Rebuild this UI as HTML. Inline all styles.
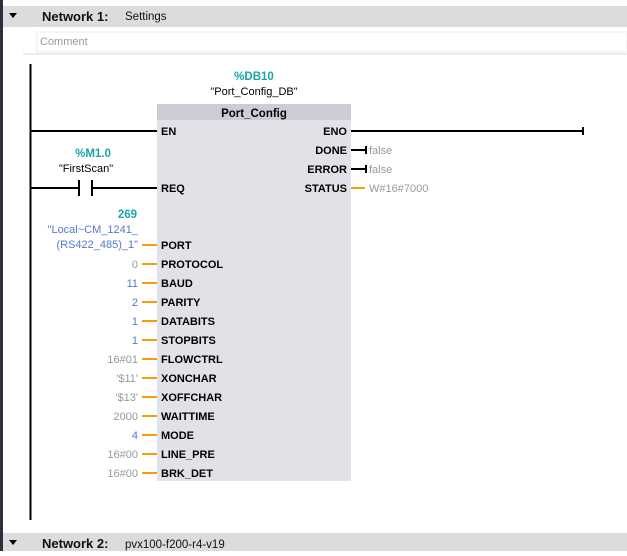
<!DOCTYPE html>
<html><head><style>
body{margin:0;width:627px;height:551px;overflow:hidden;background:#fff;font-family:"Liberation Sans",sans-serif;}
svg text{font-family:"Liberation Sans",sans-serif;}
</style></head><body>
<svg width="627" height="551" viewBox="0 0 627 551" xmlns="http://www.w3.org/2000/svg">
<rect x="0" y="0" width="3" height="551" fill="#2b2f3a"/>
<rect x="3" y="6" width="624" height="21" fill="#dcdcdc"/>
<polygon points="9,13 17,13 13,18" fill="#000"/>
<text x="42" y="21" font-size="13" font-weight="bold" fill="#111">Network 1:</text>
<text x="125" y="20" font-size="11.5" fill="#111">Settings</text>
<rect x="37" y="32" width="590" height="20" fill="#fff" stroke="#eee"/>
<text x="40" y="45" font-size="11" fill="#999">Comment</text>
<line x1="23" y1="54" x2="627" y2="54" stroke="#ddd"/>
<rect x="3" y="533" width="624" height="18" fill="#dcdcdc"/>
<polygon points="9,540 17,540 13,545" fill="#000"/>
<text x="42" y="548" font-size="13" font-weight="bold" fill="#111">Network 2:</text>
<text x="125" y="548" font-size="11.5" fill="#111">pvx100-f200-r4-v19</text>
<line x1="30.5" y1="64" x2="30.5" y2="520" stroke="#000" stroke-width="2"/>
<rect x="157" y="104" width="194" height="377" fill="#e1e1e8"/>
<rect x="157" y="104" width="194" height="16" fill="#cbccd6"/>
<text x="254" y="117" font-size="11.5" font-weight="bold" text-anchor="middle" fill="#000">Port_Config</text>
<text x="254" y="80" font-size="11.5" font-weight="bold" text-anchor="middle" fill="#1aa5a5">%DB10</text>
<text x="254" y="95" font-size="11" text-anchor="middle" fill="#000">"Port_Config_DB"</text>
<line x1="30" y1="131" x2="157" y2="131" stroke="#000" stroke-width="2"/>
<line x1="351" y1="131" x2="583" y2="131" stroke="#000" stroke-width="2"/>
<line x1="583" y1="127" x2="583" y2="135" stroke="#000" stroke-width="2"/>
<text x="93" y="157" font-size="11.5" font-weight="bold" text-anchor="middle" fill="#1aa5a5">%M1.0</text>
<text x="86" y="172" font-size="11" text-anchor="middle" fill="#000">"FirstScan"</text>
<line x1="30" y1="188" x2="78" y2="188" stroke="#000" stroke-width="2"/>
<line x1="79" y1="180" x2="79" y2="196" stroke="#000" stroke-width="2"/>
<line x1="92" y1="180" x2="92" y2="196" stroke="#000" stroke-width="2"/>
<line x1="92" y1="188" x2="157" y2="188" stroke="#000" stroke-width="2"/>
<g font-size="11" font-weight="bold" fill="#000">
<text x="161" y="135">EN</text><text x="161" y="192">REQ</text>
<text x="347" y="135" text-anchor="end">ENO</text>
<text x="347" y="154" text-anchor="end">DONE</text>
<text x="347" y="173" text-anchor="end">ERROR</text>
<text x="347" y="192" text-anchor="end">STATUS</text>
</g>
<line x1="351" y1="150" x2="366" y2="150" stroke="#000" stroke-width="2"/><line x1="366" y1="146" x2="366" y2="154" stroke="#000" stroke-width="2"/>
<line x1="351" y1="169" x2="366" y2="169" stroke="#000" stroke-width="2"/><line x1="366" y1="165" x2="366" y2="173" stroke="#000" stroke-width="2"/>
<line x1="351" y1="188" x2="365" y2="188" stroke="#f5a000" stroke-width="2"/>
<g font-size="11" fill="#999"><text x="369" y="154">false</text><text x="369" y="173">false</text><text x="369" y="192">W#16#7000</text></g>
<text x="137" y="218" font-size="11.5" font-weight="bold" text-anchor="end" fill="#1aa5a5">269</text>
<text x="138" y="233" font-size="11" text-anchor="end" fill="#5577cc">"Local~CM_1241_</text>
<text x="138" y="248" font-size="11" text-anchor="end" fill="#5577cc">(RS422_485)_1"</text>
<g stroke="#f5a000" stroke-width="2">
<line x1="142" y1="245" x2="157" y2="245"/><line x1="142" y1="264" x2="157" y2="264"/><line x1="142" y1="283" x2="157" y2="283"/><line x1="142" y1="302" x2="157" y2="302"/><line x1="142" y1="321" x2="157" y2="321"/><line x1="142" y1="340" x2="157" y2="340"/><line x1="142" y1="359" x2="157" y2="359"/><line x1="142" y1="378" x2="157" y2="378"/><line x1="142" y1="397" x2="157" y2="397"/><line x1="142" y1="416" x2="157" y2="416"/><line x1="142" y1="435" x2="157" y2="435"/><line x1="142" y1="454" x2="157" y2="454"/><line x1="142" y1="473" x2="157" y2="473"/>
</g>
<g font-size="11" font-weight="bold" fill="#000">
<text x="161" y="249">PORT</text><text x="161" y="268">PROTOCOL</text><text x="161" y="287">BAUD</text><text x="161" y="306">PARITY</text><text x="161" y="325">DATABITS</text><text x="161" y="344">STOPBITS</text><text x="161" y="363">FLOWCTRL</text><text x="161" y="382">XONCHAR</text><text x="161" y="401">XOFFCHAR</text><text x="161" y="420">WAITTIME</text><text x="161" y="439">MODE</text><text x="161" y="458">LINE_PRE</text><text x="161" y="477">BRK_DET</text>
</g>
<g font-size="11" text-anchor="end">
<text x="138" y="268" fill="#999">0</text><text x="138" y="287" fill="#5577cc">11</text><text x="138" y="306" fill="#5577cc">2</text><text x="138" y="325" fill="#5577cc">1</text><text x="138" y="344" fill="#5577cc">1</text><text x="138" y="363" fill="#999">16#01</text><text x="138" y="382" fill="#999">'$11'</text><text x="138" y="401" fill="#999">'$13'</text><text x="138" y="420" fill="#999">2000</text><text x="138" y="439" fill="#5577cc">4</text><text x="138" y="458" fill="#999">16#00</text><text x="138" y="477" fill="#999">16#00</text>
</g>
</svg>
</body></html>
